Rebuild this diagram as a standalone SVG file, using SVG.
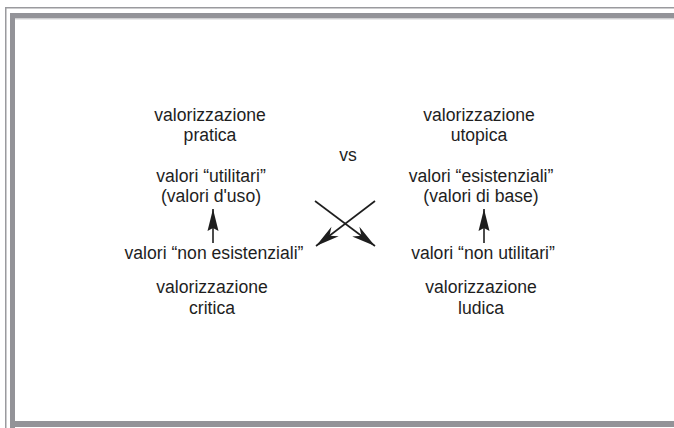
<svg xmlns="http://www.w3.org/2000/svg" width="674" height="428" viewBox="0 0 674 428">
<style>
.t{font-family:"Liberation Sans",Arial,sans-serif;font-size:17.6px;fill:#1e1e1e;text-anchor:middle}
.ln{stroke:#1e1e1e;stroke-width:1.6;fill:none}
</style>
<defs>
<marker id="dart" markerUnits="userSpaceOnUse" markerWidth="28" markerHeight="16" viewBox="-26 -8 28 16" refX="0" refY="0" orient="auto">
<path d="M0,0 L-24,-6 L-17,0 L-24,6 Z" fill="#1e1e1e"/>
</marker>
<marker id="up" markerUnits="userSpaceOnUse" markerWidth="26" markerHeight="16" viewBox="-24 -8 26 16" refX="0" refY="0" orient="auto">
<path d="M0,0 L-22,-5.5 L-19,0 L-22,5.5 Z" fill="#1e1e1e"/>
</marker>
</defs>
<rect width="674" height="428" fill="#ffffff"/>
<g id="frame">
<rect x="5" y="7" width="669" height="1.5" fill="#9a9a9e"/>
<rect x="5" y="7" width="1.5" height="421" fill="#9a9a9e"/>
<rect x="10" y="13" width="664" height="5.5" fill="#939398"/>
<rect x="10" y="13" width="5" height="415" fill="#939398"/>
<rect x="10" y="421" width="664" height="6" fill="#939398"/>
<rect x="15" y="18.5" width="659" height="1" fill="#d6d6d8"/>
</g>
<g id="connectors">
<line class="ln" x1="213" y1="243" x2="213" y2="209" marker-end="url(#up)"/>
<line class="ln" x1="484" y1="243" x2="484" y2="209" marker-end="url(#up)"/>
<line class="ln" x1="315" y1="201" x2="375" y2="246" marker-end="url(#dart)"/>
<line class="ln" x1="375" y1="201" x2="316" y2="246" marker-end="url(#dart)"/>
</g>
<g id="pratica">
<text class="t" x="210" y="121">valorizzazione</text>
<text class="t" x="210" y="141">pratica</text>
</g>
<g id="utilitari">
<text class="t" x="211" y="182">valori “utilitari”</text>
<text class="t" x="211" y="202">(valori d'uso)</text>
</g>
<g id="non-esistenziali">
<text class="t" x="214" y="259">valori “non esistenziali”</text>
</g>
<g id="critica">
<text class="t" x="212" y="293">valorizzazione</text>
<text class="t" x="212" y="314">critica</text>
</g>
<g id="vs">
<text class="t" x="348" y="161">vs</text>
</g>
<g id="utopica">
<text class="t" x="479" y="121">valorizzazione</text>
<text class="t" x="479" y="141">utopica</text>
</g>
<g id="esistenziali">
<text class="t" x="481" y="182">valori “esistenziali”</text>
<text class="t" x="481" y="202">(valori di base)</text>
</g>
<g id="non-utilitari">
<text class="t" x="483" y="259">valori “non utilitari”</text>
</g>
<g id="ludica">
<text class="t" x="481" y="293">valorizzazione</text>
<text class="t" x="481" y="314">ludica</text>
</g>
</svg>
